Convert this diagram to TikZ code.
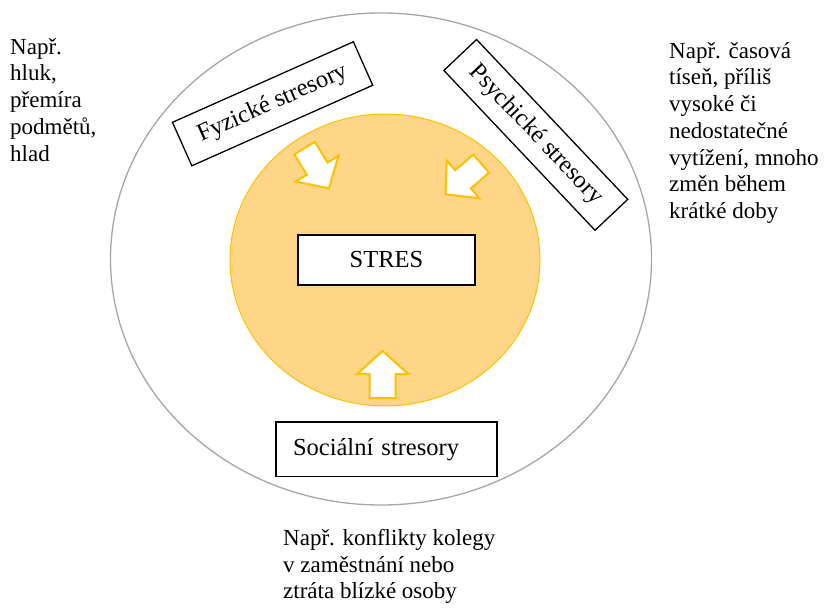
\documentclass[tikz,border=0pt]{standalone}
\usepackage{fontspec}
\setmainfont{Liberation Serif}
\newfontfamily\tnrfont{Liberation Serif}
\usetikzlibrary{shapes.geometric}
\definecolor{ringgray}{RGB}{166,166,166}
\definecolor{goldline}{RGB}{255,192,0}
\definecolor{goldfill}{RGB}{255,214,135}
\begin{document}
\begin{tikzpicture}[x=1pt,y=-1pt,
  box/.style={draw=black, line width=1.3pt, fill=white, inner sep=0pt, font=\tnrfont\fontsize{24.5}{28}\selectfont},
  note/.style={anchor=north west, align=left, inner sep=0pt, font=\tnrfont\fontsize{23}{26.7}\selectfont},
  blockarrow/.style={draw=goldline, line width=2pt, fill=white, line join=miter}]
\useasboundingbox (0,0) rectangle (825,615);
\fill[white] (0,0) rectangle (825,615);
% outer ring and core
\node[ellipse, draw=ringgray, line width=1.3pt, minimum width=541pt, minimum height=492pt, inner sep=0pt] (ring) at (381,259) {};
\node[ellipse, draw=goldline, fill=goldfill, line width=1pt, minimum width=310pt, minimum height=292pt, inner sep=0pt] (core) at (385,260) {};
% block arrows
\begin{scope}[shift={(316.8,168.2)}, rotate=-59]
  \path[blockarrow] (-23.5,-12) -- (0.5,-12) -- (0.5,-25) -- (23.5,0) -- (0.5,25) -- (0.5,12) -- (-23.5,12) -- cycle;
\end{scope}
\begin{scope}[shift={(463.4,179)}, rotate=220.8]
  \path[blockarrow] (-23.5,-12) -- (0.5,-12) -- (0.5,-25) -- (23.5,0) -- (0.5,25) -- (0.5,12) -- (-23.5,12) -- cycle;
\end{scope}
\begin{scope}[shift={(382.7,374.5)}, rotate=90]
  \path[blockarrow] (-23.5,-13) -- (0.5,-13) -- (0.5,-25.5) -- (23.5,0) -- (0.5,25.5) -- (0.5,13) -- (-23.5,13) -- cycle;
\end{scope}
% boxes
\node[box, minimum width=177pt, minimum height=50pt] (stres) at (386.5,260) {STRES};
\node[box, rotate=24, minimum width=198pt, minimum height=47.6pt] (fyz) at (272.6,103.8) {Fyzické stresory};
\node[box, rotate=-46.6, minimum width=220pt, minimum height=45pt] (psy) at (535.8,134.9) {Psychické stresory};
\node[box, inner xsep=17pt, text width=187pt, align=left, minimum height=54.5pt] (soc) at (386.5,449.3) {Sociální stresory};
% notes
\node[note] (nfyz) at (10,38) {Např.\\hluk,\\přemíra\\podmětů,\\hlad};
\node[note] (npsy) at (669,42) {Např. časová\\tíseň, příliš\\vysoké či\\nedostatečné\\vytížení, mnoho\\změn během\\krátké doby};
\node[note] (nsoc) at (283,529) {Např. konflikty kolegy\\v zaměstnání nebo\\ztráta blízké osoby};
\end{tikzpicture}
\end{document}
